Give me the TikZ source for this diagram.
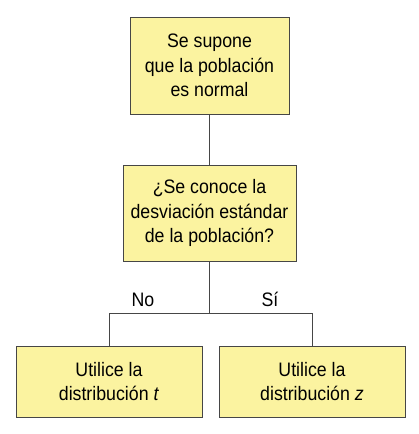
\documentclass[tikz,border=0pt]{standalone}
\usepackage{fontspec}
\setmainfont[FakeStretch=0.91]{Liberation Sans}
\usetikzlibrary{positioning}

\definecolor{boxfill}{RGB}{251,243,160}
\definecolor{boxline}{RGB}{70,70,70}

\begin{document}
\begin{tikzpicture}[x=1pt,y=1pt,
        every node/.style={align=center,font=\fontsize{19.5}{24.5}\selectfont},
        stepbox/.style={shape=rectangle,draw=boxline,fill=boxfill,line width=0.9pt,inner sep=0},
        link/.style={draw=boxline,line width=0.9pt},
        ]
\useasboundingbox (0,0) rectangle (419,434);

\node [stepbox, minimum width=159pt, minimum height=97pt] (normal) at (209.5,368.5) {Se supone\\que la población\\es normal};
\node [stepbox, minimum width=173pt, minimum height=96pt] (sigma) at (209.5,221) {¿Se conoce la\\desviación estándar\\de la población?};
\node [stepbox, minimum width=186pt, minimum height=71pt] (useT) at (109,52.5) {Utilice la\\distribución \textit{t}};
\node [stepbox, minimum width=186pt, minimum height=71pt] (useZ) at (312,52.5) {Utilice la\\distribución \textit{z}};

\coordinate (fork) at (209.5,121);
\node [anchor=base] (no) at (143,127) {No};
\node [anchor=base] (si) at (270,127) {Sí};

\path[link] (normal) -- (sigma);
\path[link] (sigma) -- (fork);
\path[link] (fork) -| (useT);
\path[link] (fork) -| (useZ);

\end{tikzpicture}
\end{document}
